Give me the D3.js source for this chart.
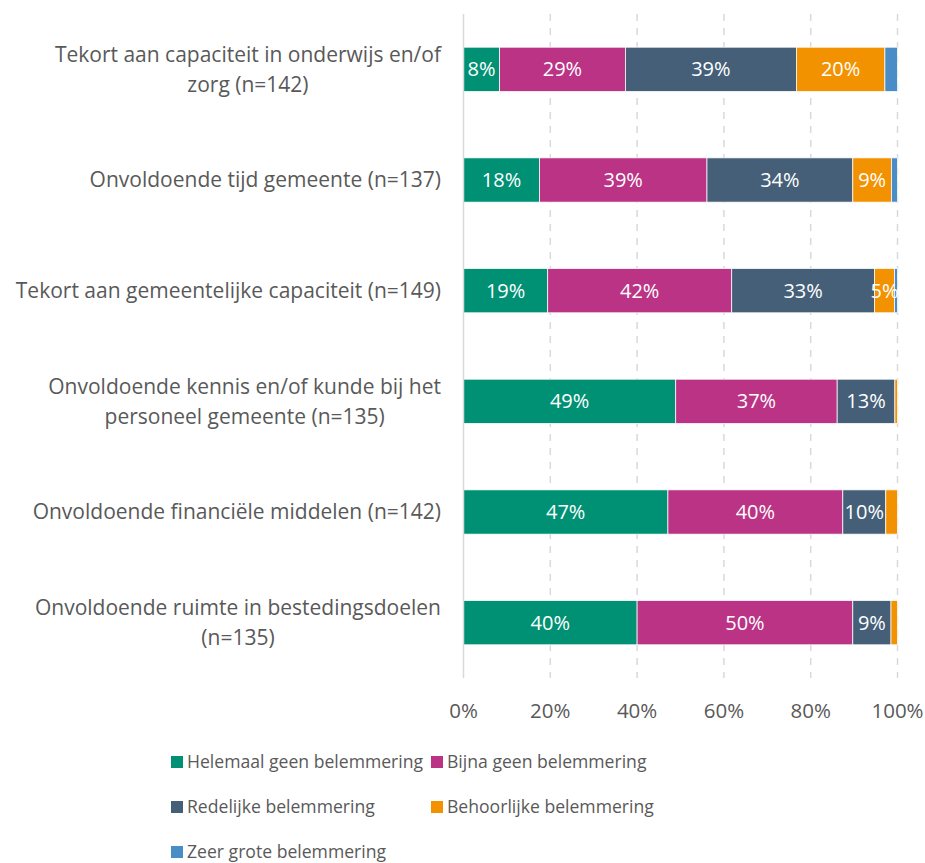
<!DOCTYPE html>
<html>
<head>
<meta charset="utf-8">
<script src="https://cdn.jsdelivr.net/npm/d3@7"></script>
<style>
  html, body { margin: 0; padding: 0; background: #fff; }
  svg { display: block; font-family: "Open Sans", sans-serif; }
</style>
</head>
<body>
<svg id="chart" width="925" height="863"></svg>
<script>
// Obstacles, each answered by the number of municipalities given in (n=...)
const categories = [
  ["Tekort aan capaciteit in onderwijs en/of", "zorg (n=142)"],
  ["Onvoldoende tijd gemeente (n=137)"],
  ["Tekort aan gemeentelijke capaciteit (n=149)"],
  ["Onvoldoende kennis en/of kunde bij het", "personeel gemeente (n=135)"],
  ["Onvoldoende financiële middelen (n=142)"],
  ["Onvoldoende ruimte in bestedingsdoelen", "(n=135)"]
];

const seriesNames = [
  "Helemaal geen belemmering",
  "Bijna geen belemmering",
  "Redelijke belemmering",
  "Behoorlijke belemmering",
  "Zeer grote belemmering"
];

// Share of answers per category (percent), one array per answer option
const helemaalGeen = [8.3, 17.5, 19.4, 48.9, 47.1, 40.0];
const bijnaGeen    = [29.0, 38.6, 42.4, 37.2, 40.3, 49.7];
const redelijk     = [39.4, 33.6, 32.9, 13.3, 9.9, 8.8];
const behoorlijk   = [20.4, 8.9, 4.6, 0.6, 2.7, 1.5];
const zeerGroot    = [2.9, 1.4, 0.7, 0.0, 0.0, 0.0];

const seriesValues = [helemaalGeen, bijnaGeen, redelijk, behoorlijk, zeerGroot];
const colors = ["#009174", "#BA3385", "#455F78", "#F39200", "#4A8CC6"];

const xTicks = [0, 20, 40, 60, 80, 100];

const svg = d3.select("#chart");
const plot = { left: 463.5, right: 897.5, top: 14, bottom: 678 };
const catFs = 21, tickFs = 20.5, valFs = 20, legFs = 17.6;

const x = d3.scaleLinear().domain([0, 100]).range([plot.left, plot.right]);
const y = d3.scaleBand()
  .domain(d3.range(categories.length))
  .range([plot.top, plot.bottom])
  .paddingInner(0.6)
  .paddingOuter(0.3);

// Dashed vertical gridlines
svg.append("g")
  .selectAll("line")
  .data(xTicks.filter(t => t > 0))
  .join("line")
  .attr("x1", d => x(d)).attr("x2", d => x(d))
  .attr("y1", plot.top).attr("y2", plot.bottom)
  .attr("stroke", "#d9d9d9")
  .attr("stroke-width", 1.5)
  .attr("stroke-dasharray", "7,7");

// Stacked rows
const rows = categories.map((c, i) => {
  let acc = 0;
  return seriesValues.map((vals, s) => {
    const seg = { s, i, x0: acc, v: vals[i] };
    acc += vals[i];
    seg.x1 = acc;
    return seg;
  });
});

const segs = rows.flat().filter(d => d.v > 0);

svg.append("g")
  .selectAll("rect")
  .data(segs)
  .join("rect")
  .attr("x", d => x(d.x0))
  .attr("width", d => x(d.x1) - x(d.x0))
  .attr("y", d => y(d.i))
  .attr("height", y.bandwidth())
  .attr("fill", d => colors[d.s])
  .attr("stroke", "#ffffff")
  .attr("stroke-width", 0.75);

// Value labels inside the segments
svg.append("g")
  .selectAll("text")
  .data(segs.filter(d => d.v >= 4))
  .join("text")
  .attr("x", d => (x(d.x0) + x(d.x1)) / 2)
  .attr("y", d => y(d.i) + y.bandwidth() / 2)
  .attr("dy", "0.35em")
  .attr("text-anchor", "middle")
  .attr("fill", "#ffffff")
  .attr("font-size", valFs)
  .text(d => Math.round(d.v) + "%");

// Category axis line
svg.append("line")
  .attr("x1", plot.left).attr("x2", plot.left)
  .attr("y1", plot.top).attr("y2", plot.bottom)
  .attr("stroke", "#d9d9d9")
  .attr("stroke-width", 1.5);

// Category labels, wrapped lines centred within a right-aligned block
const catG = svg.append("g");
categories.forEach((lines, i) => {
  const cy = y(i) + y.bandwidth() / 2;
  const lh = 30;
  const g = catG.append("g");
  const texts = lines.map((ln, k) =>
    g.append("text")
      .attr("y", cy + (k - (lines.length - 1) / 2) * lh)
      .attr("dy", "0.35em")
      .attr("fill", "#595959")
      .attr("font-size", catFs)
      .text(ln));
  const widths = texts.map(t => t.node().getComputedTextLength());
  const maxW = d3.max(widths);
  const right = 441;
  const center = right - maxW / 2;
  texts.forEach(t => t.attr("x", center).attr("text-anchor", "middle"));
});

// Value axis tick labels
svg.append("g")
  .selectAll("text")
  .data(xTicks)
  .join("text")
  .attr("x", d => x(d))
  .attr("y", 711)
  .attr("dy", "0.35em")
  .attr("text-anchor", "middle")
  .attr("fill", "#595959")
  .attr("font-size", tickFs)
  .text(d => d + "%");

// Legend
const legendPos = [
  [171, 762], [431, 762],
  [171, 807], [431, 807],
  [171, 852]
];
const leg = svg.append("g");
seriesNames.forEach((name, s) => {
  const [lx, ly] = legendPos[s];
  leg.append("rect")
    .attr("x", lx).attr("y", ly - 6)
    .attr("width", 12).attr("height", 12)
    .attr("fill", colors[s]);
  leg.append("text")
    .attr("x", lx + 16).attr("y", ly)
    .attr("dy", "0.35em")
    .attr("fill", "#595959")
    .attr("font-size", legFs)
    .text(name);
});
</script>
</body>
</html>
